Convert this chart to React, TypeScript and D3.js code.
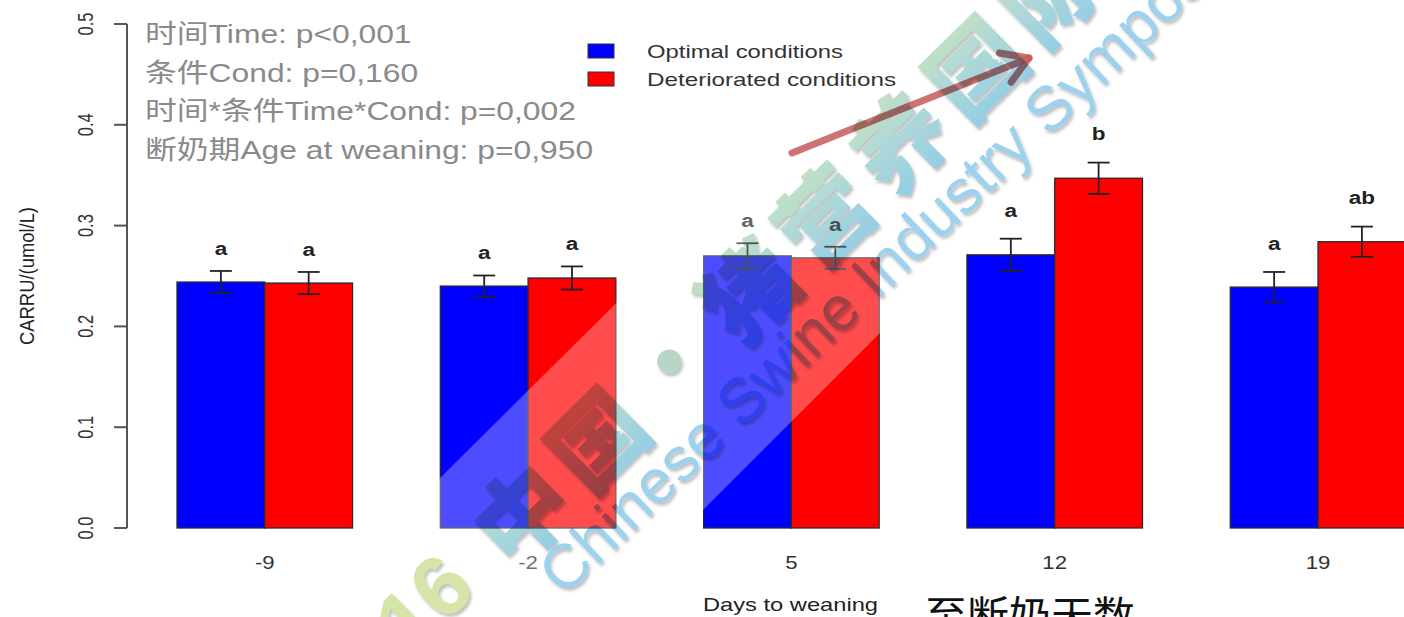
import React from "react";
import * as d3 from "d3";

// Days relative to weaning (x categories)
const days = ["-9", "-2", "5", "12", "19"];
// Mean CARRU (umol/L) per condition
const optimal = [0.244, 0.24, 0.27, 0.271, 0.239];
const deteriorated = [0.243, 0.248, 0.268, 0.347, 0.284];
// Standard errors
const optimalSE = [0.011, 0.0105, 0.0125, 0.016, 0.015];
const deterioratedSE = [0.011, 0.0115, 0.011, 0.0155, 0.015];
// Significance letters
const optimalLetters = ["a", "a", "a", "a", "a"];
const deterioratedLetters = ["a", "a", "a", "b", "ab"];
// Gap between the error-bar top and its letter (data units)
const letterGap = [0.016, 0.016, 0.016, 0.022, 0.022];

const yTicks = [0, 0.1, 0.2, 0.3, 0.4, 0.5];
const statsLines = [
  "时间Time: p<0,001",
  "条件Cond: p=0,160",
  "时间*条件Time*Cond: p=0,002",
  "断奶期Age at weaning: p=0,950",
];
const seriesNames = ["Optimal conditions", "Deteriorated conditions"];
const seriesColors = ["#0000ff", "#ff0000"];
const wmChinese = ["中", "国", "·", "猪", "营", "养", "国", "际"];
const wmEnglish = "Chinese Swine Industry Symposium";

const W = 1404;
const H = 617;
const SANS = "'Liberation Sans', Arial, 'Noto Sans CJK SC', sans-serif";
const CJK = "'Noto Sans CJK SC', 'Liberation Sans', sans-serif";

export default function App() {
  // bar units: each group = 2 bars + 1 space, first group starts at unit 1
  const x = d3.scaleLinear().domain([0, 15]).range([89.23, 1405.8]);
  const y = d3.scaleLinear().domain([0, 0.5]).range([528, 24]);
  const fmt = d3.format(".1f");

  const series = [
    { vals: optimal, se: optimalSE, letters: optimalLetters, off: 1 },
    { vals: deteriorated, se: deterioratedSE, letters: deterioratedLetters, off: 2 },
  ];

  const axisX = 127;
  const capHalf = 11;

  // watermark geometry
  const ang = -44.5;
  const rad = (ang * Math.PI) / 180;
  const dir = [Math.cos(rad), Math.sin(rad)];
  const wm0 = [518, 510];
  const wmStep = 106;

  // arrow
  const tail = [792, 153];
  const tip = [1029, 58];
  const aAng = Math.atan2(tip[1] - tail[1], tip[0] - tail[0]);
  const wing = (d: number) => [
    tip[0] + 30 * Math.cos(aAng + Math.PI + d),
    tip[1] + 30 * Math.sin(aAng + Math.PI + d),
  ];
  const w1 = wing(0.55);
  const w2 = wing(-0.55);

  return (
    <svg
      width={W}
      height={H}
      viewBox={`0 0 ${W} ${H}`}
      style={{ position: "absolute", left: 0, top: 0, background: "#fff" }}
    >
      <defs>
        <linearGradient id="wmGrad" x1="0" y1="0" x2="0" y2="1">
          <stop offset="0" stopColor="#d3e5b3" />
          <stop offset="0.45" stopColor="#b0d9d6" />
          <stop offset="1" stopColor="#8ccaea" />
        </linearGradient>
        <filter id="wmShadow" x="-20%" y="-20%" width="140%" height="140%">
          <feDropShadow dx="2" dy="3" stdDeviation="1.5" floodColor="#777" floodOpacity="0.45" />
        </filter>
      </defs>
      <rect x={0} y={0} width={W} height={H} fill="#fff" />

      {/* bars */}
      {days.map((d, i) =>
        series.map((s, k) => {
          const x0 = x(s.off + 3 * i);
          const x1 = x(s.off + 1 + 3 * i);
          return (
            <rect
              key={`b${i}-${k}`}
              x={x0}
              y={y(s.vals[i])}
              width={x1 - x0}
              height={y(0) - y(s.vals[i])}
              fill={seriesColors[k]}
              stroke="#2a2a2a"
              strokeWidth={1.3}
            />
          );
        })
      )}

      {/* error bars */}
      {days.map((d, i) =>
        series.map((s, k) => {
          const cx = x(s.off + 0.5 + 3 * i);
          const hi = y(s.vals[i] + s.se[i]);
          const lo = y(s.vals[i] - s.se[i]);
          return (
            <g key={`e${i}-${k}`} stroke="#222" strokeWidth={1.8}>
              <line x1={cx} x2={cx} y1={hi} y2={lo} />
              <line x1={cx - capHalf} x2={cx + capHalf} y1={hi} y2={hi} />
              <line x1={cx - capHalf} x2={cx + capHalf} y1={lo} y2={lo} />
            </g>
          );
        })
      )}

      {/* letters */}
      {days.map((d, i) =>
        series.map((s, k) => {
          const cx = x(s.off + 0.5 + 3 * i);
          const by = y(s.vals[i] + s.se[i] + letterGap[i]);
          return (
            <text
              key={`l${i}-${k}`}
              transform={`translate(${cx},${by}) scale(1.25,1)`}
              textAnchor="middle"
              fontFamily={SANS}
              fontWeight="bold"
              fontSize={18}
              fill="#222"
            >
              {s.letters[i]}
            </text>
          );
        })
      )}

      {/* y axis */}
      <line x1={axisX} x2={axisX} y1={y(0)} y2={y(0.5)} stroke="#555" strokeWidth={2} />
      {yTicks.map((t) => (
        <g key={`t${t}`}>
          <line x1={axisX - 13} x2={axisX} y1={y(t)} y2={y(t)} stroke="#555" strokeWidth={2} />
          <text
            transform={`translate(93,${y(t)}) scale(1.35,1) rotate(-90)`}
            textAnchor="middle"
            fontFamily={SANS}
            fontSize={16.5}
            fill="#333"
          >
            {fmt(t)}
          </text>
        </g>
      ))}
      <text
        transform={`translate(34,276) scale(1.15,1) rotate(-90)`}
        textAnchor="middle"
        fontFamily={SANS}
        fontSize={18}
        fill="#222"
        textLength={138}
        lengthAdjust="spacingAndGlyphs"
      >
        CARRU/(umol/L)
      </text>

      {/* x tick labels */}
      {days.map((d, i) => (
        <text
          key={`x${d}`}
          transform={`translate(${x(2 + 3 * i)},569) scale(1.2,1)`}
          textAnchor="middle"
          fontFamily={SANS}
          fontSize={18.5}
          fill="#333"
        >
          {d}
        </text>
      ))}
      <text
        x={703}
        y={611}
        fontFamily={SANS}
        fontSize={18.5}
        fill="#222"
        textLength={175}
        lengthAdjust="spacingAndGlyphs"
      >
        Days to weaning
      </text>
      <text
        x={925}
        y={630}
        fontFamily={CJK}
        fontSize={40}
        fill="#111"
        textLength={210}
        lengthAdjust="spacingAndGlyphs"
      >
        至断奶天数
      </text>

      {/* statistics */}
      {statsLines.map((s, i) => (
        <text
          key={`s${i}`}
          transform={`translate(145,${43 + i * 38.5}) scale(1.2,1)`}
          fontFamily={SANS}
          fontSize={26.5}
          fill="#8a8a8a"
        >
          {s}
        </text>
      ))}

      {/* legend */}
      {seriesNames.map((n, k) => (
        <g key={`lg${k}`}>
          <rect x={588} y={44 + k * 28} width={26} height={14} fill={seriesColors[k]} stroke="#333" strokeWidth={1} />
          <text
            x={647}
            y={58 + k * 28}
            fontFamily={SANS}
            fontSize={19}
            fill="#333"
            textLength={k === 0 ? 196 : 249}
            lengthAdjust="spacingAndGlyphs"
          >
            {n}
          </text>
        </g>
      ))}

      {/* pointer arrow */}
      <g stroke="#c45a5a" strokeOpacity={0.85} strokeWidth={7} strokeLinecap="round" fill="none">
        <line x1={tail[0]} y1={tail[1]} x2={tip[0]} y2={tip[1]} />
        <polyline points={`${w1[0]},${w1[1]} ${tip[0]},${tip[1]} ${w2[0]},${w2[1]}`} strokeLinejoin="round" />
      </g>

      {/* translucent ribbon */}
      <polygon points="300,617 720,200 1013,200 596,617" fill="#fff" fillOpacity={0.3} />

      {/* watermark */}
      <g style={{ mixBlendMode: "multiply" }} filter="url(#wmShadow)">
        <text
          transform={`translate(${wm0[0] - 1.25 * wmStep * dir[0]},${wm0[1] - 1.25 * wmStep * dir[1]}) rotate(${ang})`}
          textAnchor="middle"
          dominantBaseline="central"
          fontFamily={SANS}
          fontWeight="bold"
          fontSize={86}
          fill="#d4e5a8"
        >
          16
        </text>
        {wmChinese.map((c, i) => {
          const cx = wm0[0] + i * wmStep * dir[0];
          const cy = wm0[1] + i * wmStep * dir[1];
          if (c === "·") {
            return <circle key={`wm${i}`} cx={cx} cy={cy} r={12} fill="#b9d6c4" />;
          }
          return (
            <text
              key={`wm${i}`}
              transform={`translate(${cx},${cy}) rotate(${ang})`}
              textAnchor="middle"
              dominantBaseline="central"
              fontFamily={CJK}
              fontWeight={900}
              fontSize={94}
              fill="url(#wmGrad)"
            >
              {c}
            </text>
          );
        })}
        <text
          transform={`translate(549,582) rotate(-43.5)`}
          dominantBaseline="central"
          fontFamily={SANS}
          fontSize={62}
          fill="#9dd2ee"
        >
          {wmEnglish}
        </text>
      </g>
    </svg>
  );
}
